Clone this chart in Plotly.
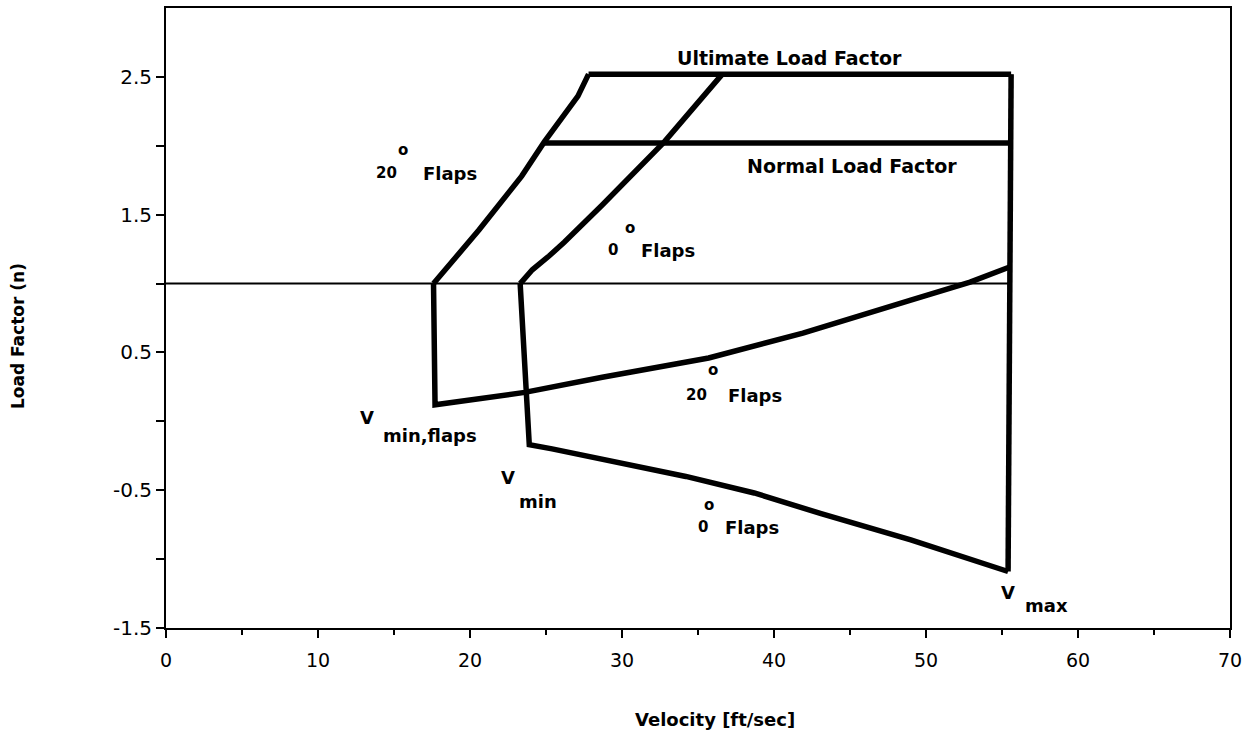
import plotly.graph_objects as go

# ---- data (velocity ft/sec, load factor n) ----
flap20_upper_v = [17.6, 18.4, 20.6, 23.4, 24.9, 27.1, 27.8]
flap20_upper_n = [1.0, 1.10, 1.39, 1.78, 2.03, 2.36, 2.52]

flap0_upper_v = [23.3, 24.1, 25.2, 26.2, 28.7, 32.8, 36.6]
flap0_upper_n = [1.0, 1.10, 1.20, 1.30, 1.57, 2.03, 2.52]

ultimate_v = [27.8, 55.6]
ultimate_n = [2.52, 2.52]

normal_v = [24.9, 55.6]
normal_n = [2.02, 2.02]

vmax_v = [55.6, 55.4]
vmax_n = [2.52, -1.09]

unity_v = [0, 55.5]
unity_n = [1.0, 1.0]

flap20_lower_v = [17.6, 17.7, 23.6, 28.7, 35.7, 41.9, 49.0, 52.9, 55.5]
flap20_lower_n = [1.0, 0.12, 0.21, 0.32, 0.46, 0.64, 0.88, 1.01, 1.12]

flap0_lower_v = [23.3, 23.9, 25.4, 29.8, 34.2, 38.7, 43.1, 49.0, 55.4]
flap0_lower_n = [1.0, -0.17, -0.20, -0.30, -0.40, -0.52, -0.67, -0.86, -1.09]

x_tickvals = [0, 10, 20, 30, 40, 50, 60, 70]
x_ticktext = ["0", "10", "20", "30", "40", "50", "60", "70"]
y_tickvals = [-1.5, -0.5, 0.5, 1.5, 2.5]
y_ticktext = ["-1.5", "-0.5", "0.5", "1.5", "2.5"]

FONT = "DejaVu Sans"
THICK = 5.5

fig = go.Figure()
for v, n, w in [
    (unity_v, unity_n, 2),
    (flap20_upper_v, flap20_upper_n, THICK),
    (flap0_upper_v, flap0_upper_n, THICK),
    (ultimate_v, ultimate_n, THICK),
    (normal_v, normal_n, THICK),
    (vmax_v, vmax_n, THICK),
    (flap20_lower_v, flap20_lower_n, THICK),
    (flap0_lower_v, flap0_lower_n, THICK),
]:
    fig.add_trace(go.Scatter(x=v, y=n, mode="lines",
                             line=dict(color="black", width=w),
                             showlegend=False, hoverinfo="skip"))

labels = [
    # text, x, y, size
    ("Ultimate Load Factor", 41.0, 2.64, 19),
    ("Normal Load Factor", 45.1, 1.85, 19),
    ("20", 14.5, 1.80, 15), ("o", 15.6, 1.97, 15), ("Flaps", 18.7, 1.80, 18),
    ("0", 29.4, 1.24, 15), ("o", 30.5, 1.40, 15), ("Flaps", 33.0, 1.24, 18),
    ("20", 34.9, 0.19, 15), ("o", 36.0, 0.37, 15), ("Flaps", 38.75, 0.19, 18),
    ("0", 35.3, -0.77, 15), ("o", 35.7, -0.61, 15), ("Flaps", 38.55, -0.77, 18),
    ("V", 13.2, 0.03, 18), ("min,flaps", 17.4, -0.10, 18),
    ("V", 22.5, -0.41, 18), ("min", 24.5, -0.58, 18),
    ("V", 55.4, -1.24, 18), ("max", 57.9, -1.34, 18),
]
for t, x, y, s in labels:
    fig.add_annotation(x=x, y=y, text="<b>" + t + "</b>", showarrow=False,
                       xanchor="center", yanchor="middle",
                       font=dict(family=FONT, size=s, color="black"))

# axis titles
fig.add_annotation(xref="paper", yref="paper", x=0.516, y=-0.148,
                   text="<b>Velocity [ft/sec]</b>", showarrow=False,
                   xanchor="center", yanchor="middle",
                   font=dict(family=FONT, size=18, color="black"))
fig.add_annotation(xref="paper", yref="paper", x=-0.139, y=0.471,
                   text="<b>Load Factor (n)</b>", showarrow=False, textangle=-90,
                   xanchor="center", yanchor="middle",
                   font=dict(family=FONT, size=17, color="black"))

fig.update_layout(
    width=1249, height=738,
    margin=dict(l=166, r=19, t=8, b=110),
    plot_bgcolor="white", paper_bgcolor="white",
    font=dict(family=FONT, color="black"),
)
fig.update_xaxes(
    range=[0, 70], tickvals=x_tickvals, ticktext=x_ticktext,
    ticks="outside", ticklen=8, tickwidth=2, tickcolor="black",
    minor=dict(dtick=5, ticks="outside", ticklen=5, tickwidth=2, tickcolor="black"),
    showline=True, linecolor="black", linewidth=2, mirror=True,
    showgrid=False, zeroline=False, automargin=False,
    tickfont=dict(family=FONT, size=19), ticklabelstandoff=6,
)
fig.update_yaxes(
    range=[-1.5, 3.0], tickvals=y_tickvals, ticktext=y_ticktext,
    ticks="outside", ticklen=8, tickwidth=2, tickcolor="black",
    minor=dict(tickvals=[-1.0, 0.0, 1.0, 2.0], ticks="outside", ticklen=8, tickwidth=2, tickcolor="black"),
    showline=True, linecolor="black", linewidth=2, mirror=True,
    showgrid=False, zeroline=False, automargin=False,
    tickfont=dict(family=FONT, size=20),
)

fig.write_html("out.html", config={"displayModeBar": False},
               post_script="document.body.style.margin='0';")
